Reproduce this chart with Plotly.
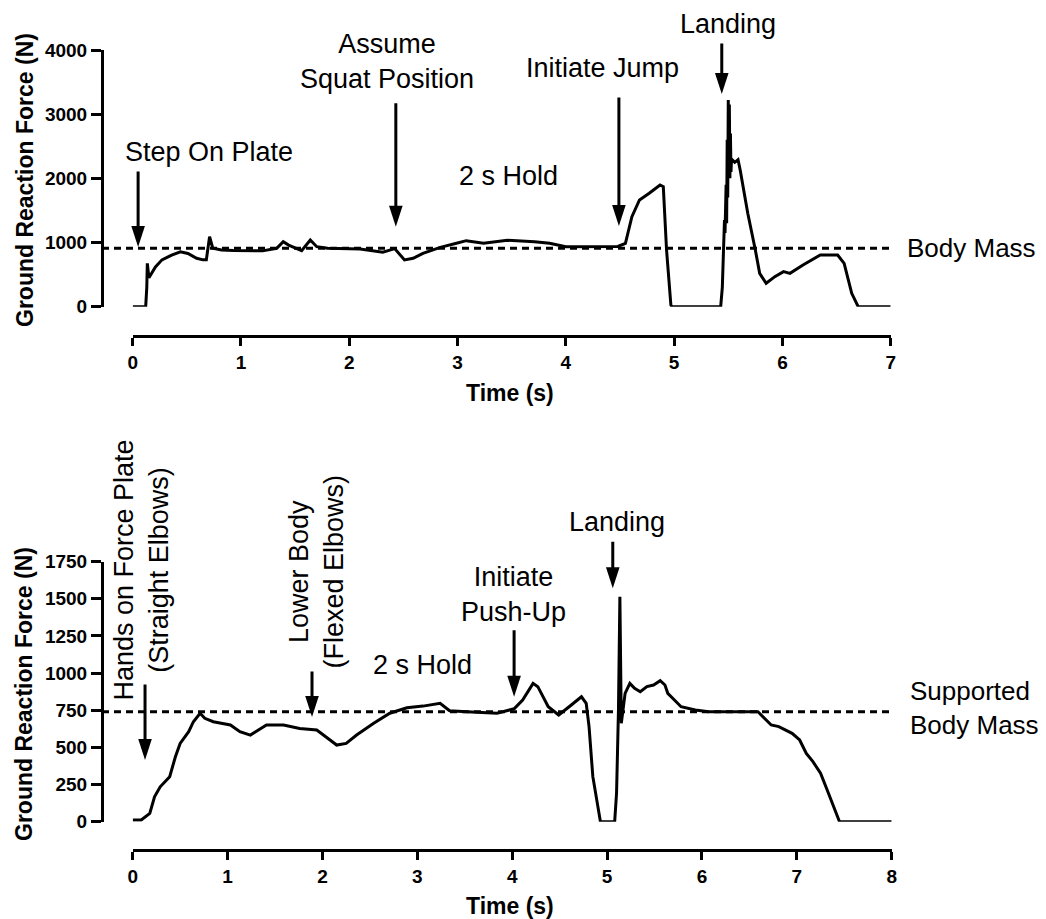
import plotly.graph_objects as go

# ---------------- data ----------------
jump_t = [0.00, 0.12, 0.13, 0.135, 0.15, 0.21, 0.27, 0.36, 0.44, 0.51, 0.59, 0.65, 0.68, 0.71, 0.74,
          0.82, 0.93, 1.05, 1.20, 1.33, 1.39, 1.44, 1.48, 1.56, 1.64, 1.70, 1.80, 1.95, 2.10, 2.31,
          2.42, 2.51, 2.59, 2.68, 2.84, 2.99, 3.08, 3.24, 3.46, 3.71, 3.85, 4.00, 4.20, 4.48, 4.55,
          4.61, 4.68, 4.77, 4.87, 4.90, 4.93, 4.97, 4.98, 5.43, 5.445, 5.455, 5.465, 5.47, 5.48,
          5.485, 5.49, 5.495, 5.50, 5.505, 5.51, 5.515, 5.52, 5.525, 5.53, 5.56, 5.59, 5.61, 5.68,
          5.75, 5.79, 5.85, 5.93, 6.01, 6.07, 6.19, 6.35, 6.51, 6.57, 6.64, 6.69, 6.70, 7.00]
jump_f = [0, 0, 300, 676, 450, 620, 730, 805, 855, 830, 755, 730, 730, 1090, 910,
          885, 875, 870, 870, 910, 1013, 960, 935, 873, 1040, 935, 910, 905, 900, 850,
          905, 728, 754, 832, 925, 988, 1029, 990, 1035, 1013, 990, 935, 935, 940, 988,
          1403, 1663, 1767, 1897, 1870, 884, 26, 0, 0, 300, 950, 1350, 1150, 1900,
          1300, 2600, 1700, 3220, 2400, 3150, 2000, 2700, 2100, 2300, 2250, 2290, 2130, 1455,
          884, 520, 365, 468, 546, 520, 650, 806, 806, 676, 209, 26, 0, 0]

pushup_t = [0.00, 0.09, 0.18, 0.23, 0.29, 0.39, 0.45, 0.50, 0.59, 0.64, 0.71, 0.76, 0.85, 1.03,
            1.13, 1.24, 1.41, 1.59, 1.76, 1.94, 2.08, 2.15, 2.25, 2.36, 2.54, 2.71, 2.89, 3.06,
            3.24, 3.34, 3.52, 3.84, 4.02, 4.11, 4.22, 4.27, 4.38, 4.49, 4.60, 4.73, 4.78, 4.81,
            4.85, 4.91, 4.93, 5.08, 5.10, 5.12, 5.135, 5.15, 5.19, 5.24, 5.29, 5.35, 5.42, 5.49,
            5.56, 5.61, 5.64, 5.71, 5.78, 5.93, 6.07, 6.59, 6.66, 6.73, 6.81, 6.95, 7.03, 7.10,
            7.17, 7.25, 7.32, 7.39, 7.45, 8.00]
pushup_f = [12, 12, 56, 168, 235, 303, 437, 527, 606, 673, 730, 696, 673, 651,
            606, 583, 651, 651, 628, 617, 550, 516, 527, 583, 662, 730, 767, 778,
            797, 747, 740, 730, 760, 819, 931, 909, 774, 718, 774, 841, 797, 640,
            303, 58, 0, 0, 193, 752, 1514, 662, 864, 931, 898, 875, 909, 920,
            949, 920, 864, 819, 774, 752, 740, 740, 696, 651, 640, 595, 550, 460,
            404, 326, 213, 101, 0, 0]

jump_body_mass = 910
pushup_body_mass = 740

jump_yticks = [0, 1000, 2000, 3000, 4000]
jump_xticks = [0, 1, 2, 3, 4, 5, 6, 7]
pushup_yticks = [0, 250, 500, 750, 1000, 1250, 1500, 1750]
pushup_xticks = [0, 1, 2, 3, 4, 5, 6, 7, 8]

# event arrows: (time, force at arrow tip)
jump_event_t = [0.05, 2.43, 4.49, 5.44]
jump_event_f = [930, 1247, 1257, 3315]
pushup_event_t = [0.13, 1.89, 4.02, 5.06]
pushup_event_f = [415, 705, 841, 1571]

# ---------------- layout helpers ----------------
W, H = 1046, 919
OFF = 8  # page body margin of the html page
def px(x):
    return (x - OFF) / W
def py(y):
    return 1 - (y - OFF) / H

FONT = "Liberation Sans, Arial, sans-serif"
tickfont = dict(family=FONT, size=19, color="black", weight="bold")

fig = go.Figure()
fig.add_trace(go.Scatter(x=jump_t, y=jump_f, mode="lines", line=dict(color="black", width=3),
                         xaxis="x", yaxis="y", showlegend=False, hoverinfo="skip"))
fig.add_trace(go.Scatter(x=pushup_t, y=pushup_f, mode="lines", line=dict(color="black", width=3),
                         xaxis="x2", yaxis="y2", showlegend=False, hoverinfo="skip"))
# arrow heads
fig.add_trace(go.Scatter(x=jump_event_t, y=jump_event_f, mode="markers", cliponaxis=False,
                         marker=dict(symbol="arrow", angle=180, size=22, color="black", line=dict(width=0)),
                         xaxis="x", yaxis="y", showlegend=False, hoverinfo="skip"))
fig.add_trace(go.Scatter(x=pushup_event_t, y=pushup_event_f, mode="markers", cliponaxis=False,
                         marker=dict(symbol="arrow", angle=180, size=22, color="black", line=dict(width=0)),
                         xaxis="x2", yaxis="y2", showlegend=False, hoverinfo="skip"))

axis_common = dict(showline=True, linewidth=3, linecolor="black", ticks="outside",
                   tickwidth=3, tickcolor="black", showgrid=False, zeroline=False,
                   tickfont=tickfont, anchor="free", automargin=False, fixedrange=True)

fig.update_layout(
    width=W, height=H,
    margin=dict(l=0, r=0, t=0, b=0),
    paper_bgcolor="white", plot_bgcolor="white",
    font=dict(family=FONT, color="black"),
    xaxis=dict(axis_common, domain=[px(132.7), px(890.7)], range=[0, 7], position=py(336),
               tickvals=jump_xticks, ticklen=8),
    yaxis=dict(axis_common, domain=[py(306.7), py(50)], range=[0, 4000], position=px(102),
               tickvals=jump_yticks, ticklen=10),
    xaxis2=dict(axis_common, domain=[px(132.7), px(891.7)], range=[0, 8], position=py(850),
                tickvals=pushup_xticks, ticklen=8),
    yaxis2=dict(axis_common, domain=[py(821.7), py(561.7)], range=[0, 1750], position=px(102),
                tickvals=pushup_yticks, ticklen=10),
)

# body mass dashed lines
fig.add_shape(type="line", xref="paper", yref="y", x0=px(102), x1=px(891.7),
              y0=jump_body_mass, y1=jump_body_mass,
              line=dict(color="black", width=3, dash="7px,5px"))
fig.add_shape(type="line", xref="paper", yref="y2", x0=px(102), x1=px(893),
              y0=pushup_body_mass, y1=pushup_body_mass,
              line=dict(color="black", width=3, dash="7px,5px"))

# arrow shafts
shaft_len_jump = [77, 125, 130, 52]
shaft_len_push = [77, 47, 68, 48]
for t, f, L in zip(jump_event_t, jump_event_f, shaft_len_jump):
    fig.add_annotation(x=t, y=f, xref="x", yref="y", ax=0, ay=-L, text="", showarrow=True,
                       arrowhead=0, arrowwidth=3, arrowcolor="black", standoff=12)
for t, f, L in zip(pushup_event_t, pushup_event_f, shaft_len_push):
    fig.add_annotation(x=t, y=f, xref="x2", yref="y2", ax=0, ay=-L, text="", showarrow=True,
                       arrowhead=0, arrowwidth=3, arrowcolor="black", standoff=12)

labfont = dict(family=FONT, size=27, color="black")
def label(text, cx, cy, angle=0, xanchor="center", size=27):
    fig.add_annotation(text=text, xref="paper", yref="paper", x=px(cx), y=py(cy),
                       xanchor=xanchor, yanchor="middle", showarrow=False,
                       font=dict(labfont, size=size),
                       textangle=angle, align="center" if xanchor == "center" else "left")

# top panel labels
label("Step On Plate", 208.5, 152)
label("Assume<br>Squat Position", 387, 61)
label("2 s Hold", 508.5, 176)
label("Initiate Jump", 602, 68)
label("Landing", 728, 24)
label("Body Mass", 905, 248, xanchor="left", size=26)
# bottom panel labels
label("Hands on Force Plate<br>(Straight Elbows)", 140.5, 570, angle=-90)
label("Lower Body<br>(Flexed Elbows)", 315.5, 572, angle=-90)
label("2 s Hold", 422, 665)
label("Initiate<br>Push-Up", 513.7, 594)
label("Landing", 616.6, 522)
label("Supported<br>Body Mass", 908, 708, xanchor="left", size=26)

# axis titles
titlefont = dict(family=FONT, size=23, color="black", weight="bold")
for cx, cy in [(25, 180), (24, 694)]:
    fig.add_annotation(text="Ground Reaction Force (N)", xref="paper", yref="paper",
                       x=px(cx), y=py(cy), xanchor="center", yanchor="middle",
                       showarrow=False, textangle=-90, font=titlefont)
for cx, cy in [(510, 393), (510, 906)]:
    fig.add_annotation(text="Time (s)", xref="paper", yref="paper",
                       x=px(cx), y=py(cy), xanchor="center", yanchor="middle",
                       showarrow=False, font=titlefont)

fig.write_html("out.html")
